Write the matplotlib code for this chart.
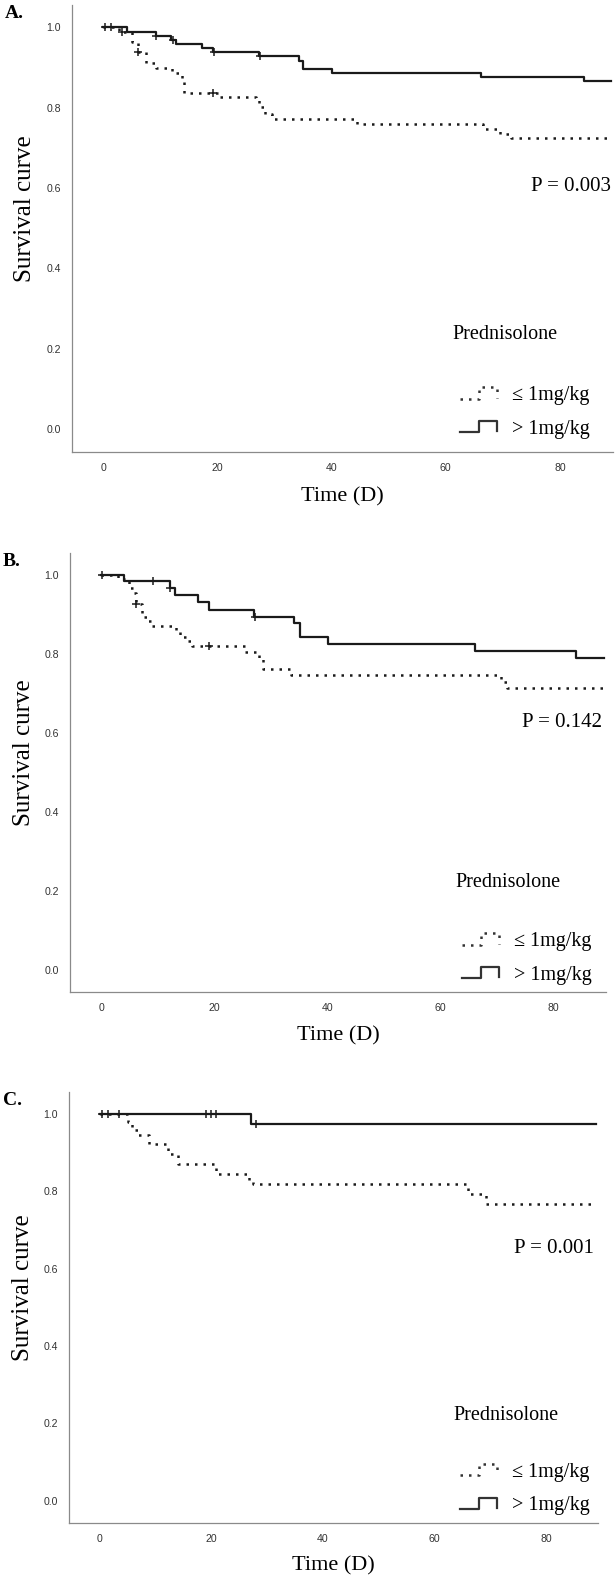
import numpy as np
import matplotlib
matplotlib.use('Agg')
import matplotlib.pyplot as plt
from matplotlib.lines import Line2D
from matplotlib.legend_handler import HandlerBase

# ---- data (step times in days, survival) ----
# A.
a_low_t = [0, 2.8, 5.0, 6.0, 7.5, 9.3, 12.0, 13.7, 14.2, 20.3, 26.7, 27.2, 28.4, 29.5, 44.5, 66.5, 69.5, 71.5]
a_low_s = [1.0, 0.988, 0.963, 0.938, 0.912, 0.900, 0.887, 0.866, 0.837, 0.828, 0.819, 0.803, 0.785, 0.773, 0.760, 0.748, 0.736, 0.724]
a_low_cens = [3.2, 6.1, 19.2]
a_high_t = [0, 4.1, 9.2, 11.9, 12.8, 17.2, 19.2, 27.2, 34.2, 34.9, 40.0, 66.1, 84.2]
a_high_s = [1.0, 0.989, 0.979, 0.969, 0.960, 0.949, 0.938, 0.928, 0.917, 0.896, 0.887, 0.876, 0.866]
a_high_cens = [0.2, 1.4, 9.3, 12.2, 19.3, 27.5]

# B.
b_low_t = [0, 3.0, 5.0, 5.8, 6.1, 7.2, 8.2, 9.0, 13.3, 14.0, 15.1, 16.1, 25.4, 27.9, 28.6, 33.5, 70.8, 71.8]
b_low_s = [1.0, 0.990, 0.967, 0.954, 0.927, 0.894, 0.883, 0.870, 0.855, 0.844, 0.834, 0.820, 0.805, 0.788, 0.761, 0.746, 0.728, 0.715]
b_low_cens = [6.2, 19.1]
b_high_t = [0, 4.1, 12.1, 13.0, 17.1, 19.0, 27.1, 34.2, 35.1, 40.1, 66.1, 84.0]
b_high_s = [1.0, 0.984, 0.966, 0.949, 0.931, 0.912, 0.895, 0.878, 0.843, 0.826, 0.807, 0.790]
b_high_cens = [0.1, 9.1, 12.2, 27.2]

# C.
c_low_t = [0, 5.0, 5.8, 6.8, 8.8, 12.3, 14.0, 20.9, 26.8, 27.5, 66.0, 69.2]
c_low_s = [1.0, 0.979, 0.958, 0.945, 0.921, 0.895, 0.869, 0.844, 0.827, 0.819, 0.792, 0.766]
c_low_cens = []
c_high_t = [0, 27.1]
c_high_s = [1.0, 0.973]
c_high_cens = [0.5, 1.5, 3.4, 19.1, 20.0, 20.9, 28.0]

t_end = 89
panel_tags = ['A.', 'B.', 'C.']
p_values = ['P = 0.003', 'P = 0.142', 'P = 0.001']
group_labels = ['\u2264 1mg/kg', '> 1mg/kg']
legend_title = 'Prednisolone'
x_ticks = [0, 20, 40, 60, 80]
y_ticks = [0.0, 0.2, 0.4, 0.6, 0.8, 1.0]

panels = [
    (a_low_t, a_low_s, a_low_cens, a_high_t, a_high_s, a_high_cens),
    (b_low_t, b_low_s, b_low_cens, b_high_t, b_high_s, b_high_cens),
    (c_low_t, c_low_s, c_low_cens, c_high_t, c_high_s, c_high_cens),
]

# axes boxes in pixels: left, top, right, bottom
W, H = 616, 1575
boxes = [(72, 5, 613, 452), (70, 553, 606, 992), (69, 1092, 598, 1523)]
p_pos = [(0.997, 0.593), (0.992, 0.615), (0.992, 0.638)]
title_pos = [(0.704, 0.262), (0.72, 0.25), (0.726, 0.25)]
leg_pos = [(0.717, 0.089), (0.731, 0.077), (0.739, 0.079)]

serif = ['Liberation Serif', 'DejaVu Serif']
sans = ['Liberation Sans', 'DejaVu Sans']


class StepHandler(HandlerBase):
    def create_artists(self, legend, orig_handle, xdescent, ydescent,
                       width, height, fontsize, trans):
        xs = np.array([0, 0.52, 0.52, 1.0, 1.0]) * width - xdescent
        ys = np.array([0.1, 0.1, 0.9, 0.9, 0.15]) * height - ydescent
        line = Line2D(xs, ys)
        self.update_prop(line, orig_handle, legend)
        line.set_transform(trans)
        return [line]


def surv_at(t, s, c):
    idx = np.searchsorted(t, c, side='right') - 1
    return np.asarray(s)[idx]


dotted = (0, (1.0, 2.4))
fig = plt.figure(figsize=(W / 100, H / 100), dpi=100)

for i, (lt, ls, lc, ht, hs, hc) in enumerate(panels):
    l, t, r, b = boxes[i]
    ax = fig.add_axes([l / W, 1 - b / H, (r - l) / W, (b - t) / H])

    ax.step(np.append(lt, t_end), np.append(ls, ls[-1]), where='post',
            color='#1a1a1a', lw=1.8, linestyle=dotted)
    ax.step(np.append(ht, t_end), np.append(hs, hs[-1]), where='post',
            color='#1a1a1a', lw=1.6)
    if len(lc):
        ax.plot(lc, surv_at(lt, ls, lc), ls='none', marker='+', ms=6, mew=1.1, color='#1a1a1a')
    ax.plot(hc, surv_at(ht, hs, hc), ls='none', marker='+', ms=6, mew=1.1, color='#1a1a1a')

    ax.set_xlim(-5.5, 89.3)
    ax.set_ylim(-0.057, 1.056)
    ax.set_xticks(x_ticks)
    ax.set_yticks(y_ticks)
    ax.set_yticklabels(['%.1f' % v for v in y_ticks])
    ax.tick_params(length=0, labelsize=7.6, labelcolor='#333333')
    ax.tick_params(axis='y', pad=8)
    ax.tick_params(axis='x', pad=8)
    for lab in ax.get_xticklabels() + ax.get_yticklabels():
        lab.set_family(sans)
    for side in ['top', 'right']:
        ax.spines[side].set_visible(False)
    for side in ['left', 'bottom']:
        ax.spines[side].set_color('#8a8a8a')
        ax.spines[side].set_linewidth(0.9)

    ax.set_ylabel('Survival curve', family=serif, fontsize=18)
    ax.yaxis.set_label_coords(-0.066, 0.545)
    ax.set_xlabel('Time (D)', family=serif, fontsize=16)
    ax.xaxis.set_label_coords(0.5, -0.078)

    ax.text(-0.125, 0.98, panel_tags[i], transform=ax.transAxes, ha='left', va='center',
            family=serif, fontsize=14, fontweight='bold')
    ax.text(p_pos[i][0], p_pos[i][1], p_values[i], transform=ax.transAxes, ha='right',
            va='center', family=serif, fontsize=15)
    ax.text(title_pos[i][0], title_pos[i][1], legend_title, transform=ax.transAxes,
            ha='left', va='center', family=serif, fontsize=14.5)

    handles = [Line2D([], [], color='#333333', lw=1.8, linestyle=dotted),
               Line2D([], [], color='#333333', lw=1.6)]
    ax.legend(handles, group_labels, loc='center left', bbox_to_anchor=leg_pos[i],
              frameon=False, borderpad=0, borderaxespad=0, handlelength=1.85,
              handleheight=0.7, handletextpad=0.75, labelspacing=0.72,
              prop={'family': serif, 'size': 14.5},
              handler_map={Line2D: StepHandler()})

fig.savefig('out.png', dpi=100)
